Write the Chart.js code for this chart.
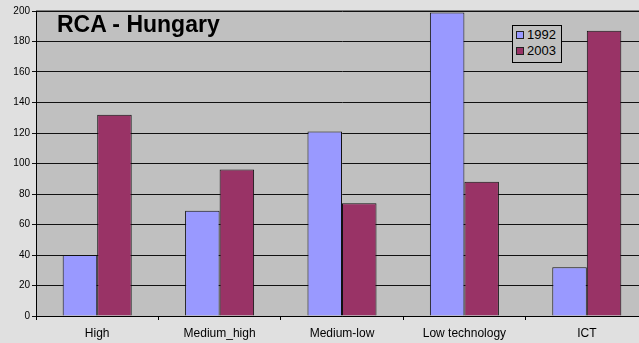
<!DOCTYPE html>
<html>
<head>
<meta charset="utf-8">
<title>RCA - Hungary</title>
<script src="https://cdn.jsdelivr.net/npm/chart.js@4"></script>
<style>
  html, body { margin: 0; padding: 0; overflow: hidden; }
  body {
    width: 639px; height: 343px;
    background: #e0e0e0;
    font-family: "Liberation Sans", Arial, sans-serif;
  }
  #wrap { position: relative; width: 650px; height: 343px; }
  #rcaChart { display: block; }
  .chart-title {
    position: absolute; left: 57px; top: 13px;
    font: bold 23px/23px "Liberation Sans", Arial, sans-serif;
    color: #000;
  }
  .chart-legend {
    position: absolute; left: 512px; top: 25px;
    width: 48px; height: 35px;
    background: #c0c0c0; border: 1px solid #000;
    padding-top: 1px; box-sizing: content-box;
  }
  .legend-row {
    position: relative; height: 16px;
    font: 13px/16px "Liberation Sans", Arial, sans-serif; color: #000;
    padding-left: 14px;
  }
  .legend-row .swatch {
    position: absolute; left: 3px; top: 4px;
    width: 6px; height: 6px; border: 1px solid #222;
  }
</style>
</head>
<body>
<div id="wrap">
  <canvas id="rcaChart" width="650" height="343"></canvas>
  <div class="chart-title">RCA - Hungary</div>
  <div class="chart-legend" id="legend"></div>
</div>
<script>
// RCA index by technology group, Hungary
const categories = ['High', 'Medium_high', 'Medium-low', 'Low technology', 'ICT'];
const seriesLabels = ['1992', '2003'];
const rca1992 = [40, 69, 121, 199, 32];
const rca2003 = [132, 96, 74, 88, 187];
const yTicks = [0, 20, 40, 60, 80, 100, 120, 140, 160, 180, 200];

const colors = ['#9999ff', '#993366'];

// grey plot background plus the thin frame line on top
const plotBackground = {
  id: 'plotBackground',
  beforeDraw(chart) {
    const { ctx, chartArea: a } = chart;
    ctx.save();
    ctx.fillStyle = '#c0c0c0';
    ctx.fillRect(a.left, a.top, a.right - a.left, a.bottom - a.top);
    ctx.restore();
  },
  afterDraw(chart) {
    const { ctx, chartArea: a } = chart;
    ctx.save();
    ctx.strokeStyle = '#808080';
    ctx.lineWidth = 1;
    ctx.beginPath();
    ctx.moveTo(a.left, Math.round(a.top) - 0.5);
    ctx.lineTo(a.right, Math.round(a.top) - 0.5);
    ctx.stroke();
    ctx.restore();
  }
};

const chart = new Chart(document.getElementById('rcaChart'), {
  type: 'bar',
  data: {
    labels: categories,
    datasets: [
      { label: seriesLabels[0], data: rca1992, backgroundColor: colors[0], borderColor: '#111', borderWidth: 1 },
      { label: seriesLabels[1], data: rca2003, backgroundColor: colors[1], borderColor: '#111', borderWidth: 1 }
    ]
  },
  options: {
    responsive: false,
    animation: false,
    layout: { padding: { left: 0, right: 2, top: 11, bottom: 0 } },
    datasets: { bar: { categoryPercentage: 0.564, barPercentage: 1 } },
    plugins: { legend: { display: false }, tooltip: { enabled: false } },
    scales: {
      x: {
        offset: true,
        grid: { offset: true, drawOnChartArea: false, color: '#000', tickLength: 4 },
        border: { color: '#000', width: 1 },
        ticks: { color: '#000', font: { family: '"Liberation Sans", Arial, sans-serif', size: 12 }, padding: 6, maxRotation: 0 },
        afterFit(scale) { scale.height = 27; }
      },
      y: {
        min: 0,
        max: 200,
        afterBuildTicks(scale) { scale.ticks = yTicks.map(v => ({ value: v })); },
        grid: { color: '#111', tickLength: 4 },
        border: { color: '#000', width: 1 },
        ticks: { color: '#000', font: { family: '"Liberation Sans", Arial, sans-serif', size: 10 }, padding: 2 },
        afterFit(scale) { scale.width = 36; }
      }
    }
  },
  plugins: [plotBackground]
});

// legend box built from the dataset labels and colours
const legend = document.getElementById('legend');
legend.innerHTML = chart.data.datasets.map(ds => `
  <div class="legend-row"><span class="swatch" style="background:${ds.backgroundColor}"></span>${ds.label}</div>
`).join('');
</script>
</body>
</html>
